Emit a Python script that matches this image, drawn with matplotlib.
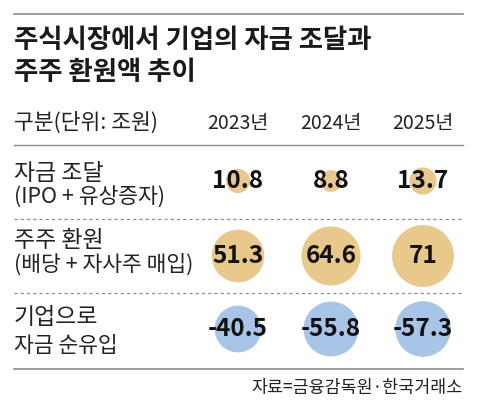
import matplotlib
matplotlib.use("Agg")
import matplotlib.pyplot as plt

plt.rcParams['font.family'] = ['Noto Sans CJK KR', 'DejaVu Sans']

# data
title_lines = ["주식시장에서 기업의 자금 조달과", "주주 환원액 추이"]
header = "구분(단위: 조원)"
years = ["2023년", "2024년", "2025년"]
row_labels = [
    ("자금 조달", "(IPO + 유상증자)"),
    ("주주 환원", "(배당 + 자사주 매입)"),
    ("기업으로", "자금 순유입"),
]
fund_raising = [10.8, 8.8, 13.7]
shareholder_return = [51.3, 64.6, 71]
net_inflow = [-40.5, -55.8, -57.3]
source = "자료=금융감독원·한국거래소"

rows = [fund_raising, shareholder_return, net_inflow]
row_colors = ["#e8c98b", "#e8c98b", "#a8c4e6"]

# layout (pixels, figure is 480x415)
W, H = 480, 415
left, right = 14, 463
col_x = [238, 331, 423]
row_y = [181, 256, 329]
label_y = [(173, 197), (240, 265), (317, 346)]
size_k = 28.0  # marker area per unit of value

fig = plt.figure(figsize=(W / 100, H / 100), dpi=100)
ax = fig.add_axes([0, 0, 1, 1])
ax.set_xlim(0, W)
ax.set_ylim(H, 0)
ax.axis("off")

# rules
ax.plot([left, right], [14, 14], color="#8c8c8c", lw=1.2)
ax.plot([left, right], [145, 145], color="#8c8c8c", lw=1.0)
for y in [219, 293]:
    ax.plot([left, right], [y, y], color="#8c8c8c", lw=0.9, ls=(0, (2.5, 2.5)))
ax.plot([left, right], [369, 369], color="#8c8c8c", lw=1.2)

# title
ax.text(left, 40, title_lines[0], fontsize=19, fontweight="bold", color="#1a1a1a",
        ha="left", va="center")
ax.text(left, 73, title_lines[1], fontsize=19, fontweight="bold", color="#1a1a1a",
        ha="left", va="center")

# header
ax.text(left, 123, header, fontsize=15.5, color="#222222", ha="left", va="center")
for x, yr in zip(col_x, years):
    ax.text(x, 123, yr, fontsize=14, color="#222222", ha="center", va="center")

# rows
for (l1, l2), (y1, y2) in zip(row_labels, label_y):
    ax.text(left, y1, l1, fontsize=16.5, color="#222222", ha="left", va="center")
    ax.text(left, y2, l2, fontsize=15.5, color="#222222", ha="left", va="center")

for vals, y, c in zip(rows, row_y, row_colors):
    ax.scatter(col_x, [y] * len(vals), s=[size_k * abs(v) for v in vals],
               color=c, edgecolors="none", zorder=2)
    for x, v in zip(col_x, vals):
        ax.text(x, y, f"{v:g}", fontsize=17.5, fontweight="bold", color="#111111",
                ha="center", va="center", zorder=3)

# source
ax.text(right, 388, source, fontsize=12.5, color="#222222", ha="right", va="center")

fig.savefig("out.png", dpi=100, facecolor="white")
